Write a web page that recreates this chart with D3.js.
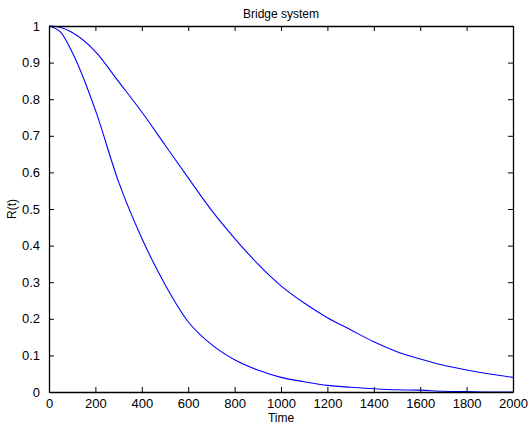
<!DOCTYPE html>
<html>
<head>
<meta charset="utf-8">
<script src="https://d3js.org/d3.v7.min.js"></script>
<style>
body { margin: 0; background: #fff; }
text { font-family: "Liberation Sans", Arial, sans-serif; fill: #000; }
.axis path, .axis line { stroke: #000; }
</style>
</head>
<body>
<script>
// time grid (hours) and the two reliability curves
var time = [0, 50, 100, 200, 300, 400, 500, 600, 700, 800, 900, 1000, 1100, 1200, 1300, 1400, 1500, 1600, 1700, 1800, 1900, 2000];
var fastCurve = [1, 0.983, 0.928, 0.77, 0.574, 0.42, 0.294, 0.192, 0.13, 0.088, 0.06, 0.04, 0.028, 0.018, 0.013, 0.009, 0.006, 0.005, 0.002, 0.001, 0, 0];
var slowCurve = [1, 0.996, 0.982, 0.930, 0.848, 0.765, 0.675, 0.585, 0.497, 0.42, 0.35, 0.29, 0.243, 0.203, 0.17, 0.137, 0.11, 0.09, 0.073, 0.06, 0.049, 0.04];
var xTicks = [0, 200, 400, 600, 800, 1000, 1200, 1400, 1600, 1800, 2000];
var yTicks = [0, 0.1, 0.2, 0.3, 0.4, 0.5, 0.6, 0.7, 0.8, 0.9, 1];

var w = 530, h = 425;
var padL = 49, padR = 513, padT = 26, padB = 392;

var svg = d3.select("body").append("svg")
  .attr("width", w)
  .attr("height", h);

var x = d3.scaleLinear().domain([0, 2000]).range([padL, padR]);
var y = d3.scaleLinear().domain([0, 1]).range([padB, padT]);

// curves
var line = d3.line()
  .curve(d3.curveMonotoneX)
  .x(function(d) { return x(d[0]); })
  .y(function(d) { return y(d[1]); });

[fastCurve, slowCurve].forEach(function(s) {
  svg.append("path")
    .datum(time.map(function(t, i) { return [t, s[i]]; }))
    .attr("fill", "none")
    .attr("stroke", "#0000ff")
    .attr("stroke-width", 1.1)
    .attr("d", line);
});

// axes, ticks point inward like matlab
var fmt = function(d) { return d3.format("~g")(d); };

svg.append("g").attr("class", "axis")
  .attr("transform", "translate(0," + padB + ")")
  .call(d3.axisBottom(x).tickValues(xTicks).tickFormat(fmt).tickSizeInner(-5).tickSizeOuter(0).tickPadding(7))
  .call(function(g) { g.selectAll("text").style("font-size", "13px"); });

svg.append("g").attr("class", "axis")
  .attr("transform", "translate(0," + padT + ")")
  .call(d3.axisTop(x).tickValues(xTicks).tickFormat("").tickSizeInner(-5).tickSizeOuter(0));

svg.append("g").attr("class", "axis")
  .attr("transform", "translate(" + padL + ",0)")
  .call(d3.axisLeft(y).tickValues(yTicks).tickFormat(fmt).tickSizeInner(-5).tickSizeOuter(0).tickPadding(9))
  .call(function(g) { g.selectAll("text").style("font-size", "13px"); });

svg.append("g").attr("class", "axis")
  .attr("transform", "translate(" + padR + ",0)")
  .call(d3.axisRight(y).tickValues(yTicks).tickFormat("").tickSizeInner(-5).tickSizeOuter(0));

svg.selectAll(".axis path").attr("stroke-width", 1.3);

// labels
svg.append("text")
  .attr("x", (padL + padR) / 2).attr("y", 18)
  .attr("text-anchor", "middle")
  .style("font-size", "12px")
  .text("Bridge system");

svg.append("text")
  .attr("x", (padL + padR) / 2).attr("y", 422)
  .attr("text-anchor", "middle")
  .style("font-size", "12px")
  .text("Time");

svg.append("text")
  .attr("transform", "translate(16," + (padT + padB) / 2 + ") rotate(-90)")
  .attr("text-anchor", "middle")
  .style("font-size", "12px")
  .text("R(t)");
</script>
</body>
</html>
